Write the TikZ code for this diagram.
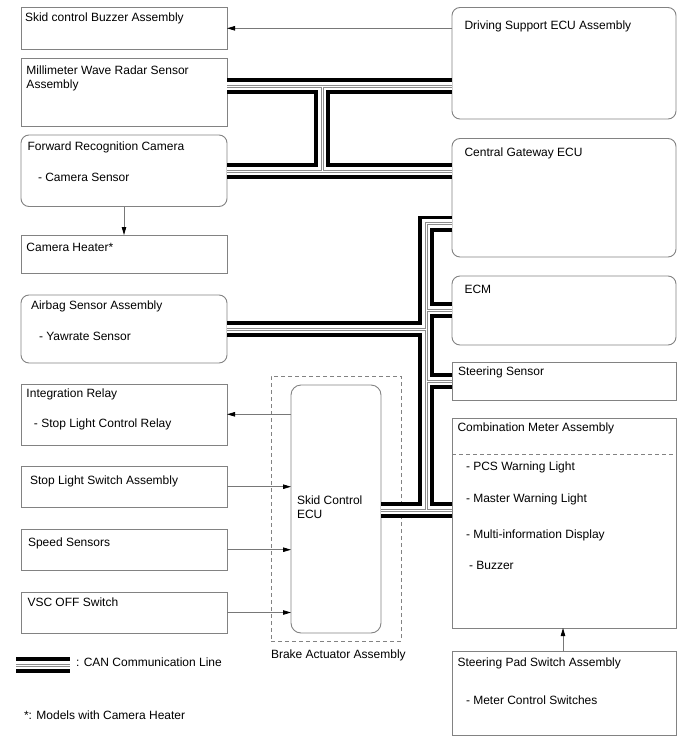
\documentclass[tikz,border=0pt]{standalone}
\usepackage{fontspec}
\setmainfont{Liberation Sans}
\usetikzlibrary{arrows.meta,calc}
\definecolor{boxgray}{RGB}{130,130,130}
\definecolor{linegray}{RGB}{120,120,120}
\definecolor{cangray}{RGB}{140,140,140}
\begin{document}
\begin{tikzpicture}[x=1pt,y=-1pt,
  sqbox/.style={draw=boxgray,line width=0.9pt,anchor=north west,inner sep=0,outer sep=0},
  rdbox/.style={sqbox,rounded corners=8pt},
  dashbox/.style={draw=boxgray,line width=0.8pt,dashed,dash pattern=on 4pt off 3pt,anchor=north west,inner sep=0,outer sep=0},
  lbl/.style={anchor=base west,inner sep=0,outer sep=0,font=\fontsize{12}{14}\selectfont},
  arr/.style={draw=linegray,line width=0.8pt,-{Triangle[length=8pt,width=4.5pt,color=black]}}
]
\useasboundingbox (0,0) rectangle (688,755);

% left column
\node[sqbox,minimum width=206pt,minimum height=41.5pt] (buz) at (21,7.5) {};
\node[sqbox,minimum width=206pt,minimum height=68pt] (mmw) at (21,58.5) {};
\node[rdbox,minimum width=206pt,minimum height=71.5pt] (cam) at (21,135) {};
\node[sqbox,minimum width=206pt,minimum height=38pt] (htr) at (21,235) {};
\node[rdbox,minimum width=206pt,minimum height=68pt] (abg) at (21,295) {};
\node[sqbox,minimum width=206pt,minimum height=61pt] (rly) at (21,384) {};
\node[sqbox,minimum width=206pt,minimum height=41pt] (slw) at (21,466.5) {};
\node[sqbox,minimum width=206pt,minimum height=40.5pt] (spd) at (21,529.5) {};
\node[sqbox,minimum width=206pt,minimum height=41pt] (vsc) at (21,592.5) {};

% right column
\node[rdbox,minimum width=224pt,minimum height=111.5pt] (drv) at (452,7.5) {};
\node[rdbox,minimum width=224pt,minimum height=118.5pt] (cgw) at (452,138.5) {};
\node[rdbox,minimum width=224pt,minimum height=69pt] (ecm) at (452,276) {};
\node[sqbox,minimum width=224pt,minimum height=37.5pt] (str) at (452,362.5) {};
\node[sqbox,minimum width=224pt,minimum height=209.5pt] (cmb) at (452,418.5) {};
\node[sqbox,minimum width=224pt,minimum height=84pt] (spa) at (452,651) {};
\draw[draw=boxgray,line width=0.8pt,dash pattern=on 4pt off 3pt] (cmb.west |- 0,454.5) -- (cmb.east |- 0,454.5);

% middle
\node[dashbox,minimum width=130pt,minimum height=265pt] (brk) at (271,376) {};
\node[rdbox,rounded corners=10pt,minimum width=90pt,minimum height=248pt] (ecu) at (291,385) {};

% labels
\node[lbl] (t1) at (25,21.5) {Skid control Buzzer Assembly};
\node[lbl] (t2) at (26.5,74.5) {Millimeter Wave Radar Sensor};
\node[lbl] (t2b) at (26.5,88.5) {Assembly};
\node[lbl] (t3) at (27.5,150) {Forward Recognition Camera};
\node[lbl] (t3b) at (38,181.5) {- Camera Sensor};
\node[lbl] (t4) at (26.5,251) {Camera Heater*};
\node[lbl] (t5) at (31,309) {Airbag Sensor Assembly};
\node[lbl] (t5b) at (39,340) {- Yawrate Sensor};
\node[lbl] (t6) at (26.5,397.5) {Integration Relay};
\node[lbl] (t6b) at (34,427.5) {- Stop Light Control Relay};
\node[lbl] (t7) at (30,484) {Stop Light Switch Assembly};
\node[lbl] (t8) at (28,546) {Speed Sensors};
\node[lbl] (t9) at (27.5,606.5) {VSC OFF Switch};

\node[lbl] (r1) at (464.5,29.3) {Driving Support ECU Assembly};
\node[lbl] (r2) at (464.5,156.7) {Central Gateway ECU};
\node[lbl] (r3) at (464.5,293.5) {ECM};
\node[lbl] (r4) at (458,375) {Steering Sensor};
\node[lbl] (r5) at (457.5,431) {Combination Meter Assembly};
\node[lbl] (r5a) at (466,470) {- PCS Warning Light};
\node[lbl] (r5b) at (466,502) {- Master Warning Light};
\node[lbl] (r5c) at (466,538) {- Multi-information Display};
\node[lbl] (r5d) at (469,569) {- Buzzer};
\node[lbl] (r6) at (457.5,666) {Steering Pad Switch Assembly};
\node[lbl] (r6b) at (466,704) {- Meter Control Switches};

\node[lbl] (m1) at (297,504) {Skid Control};
\node[lbl] (m1b) at (297,518.3) {ECU};
\node[lbl] (m2) at (271,658.3) {Brake Actuator Assembly};

\node[lbl] (lg) at (76,666.5) {: CAN Communication Line};
\node[lbl] (nt) at (24,719.3) {*: Models with Camera Heater};

% helper coordinates
\coordinate (yBz) at (0,28.3);
\coordinate (xHt) at (124,0);
\coordinate (yRl) at (0,414.3);
\coordinate (ySl) at (0,486.7);
\coordinate (ySp) at (0,549.7);
\coordinate (yVs) at (0,612.5);
\coordinate (xSp) at (563,0);

% signal arrows
\draw[arr] (drv.west |- yBz) -- (buz.east |- yBz);
\draw[arr] (cam.south -| xHt) -- (htr.north -| xHt);
\draw[arr] (ecu.west |- yRl) -- (rly.east |- yRl);
\draw[arr] (slw.east |- ySl) -- (ecu.west |- ySl);
\draw[arr] (spd.east |- ySp) -- (ecu.west |- ySp);
\draw[arr] (vsc.east |- yVs) -- (ecu.west |- yVs);
\draw[arr] (spa.north -| xSp) -- (cmb.south -| xSp);

% CAN bus coordinates
\coordinate (yA) at (0,86);
\coordinate (yB) at (0,171);
\coordinate (xAB) at (322,0);
\coordinate (xC) at (426,0);
\coordinate (yG) at (0,223.5);
\coordinate (yE) at (0,310);
\coordinate (yAb) at (0,329);
\coordinate (yS) at (0,381);
\coordinate (yK) at (0,510);
\coordinate (lg1) at (16,665);
\coordinate (lg2) at (70,665);

\foreach \w/\c in {16/black,8.5/white,3/cangray,1/white}{
  \draw[line width=\w pt,draw=\c,line cap=butt,line join=miter]
    (mmw.east |- yA) -- (drv.west |- yA)
    (cam.east |- yB) -- (cgw.west |- yB)
    (xAB |- yA) -- (xAB |- yB)
    (cgw.west |- yG) -- (xC |- yG) -- (xC |- yK)
    (abg.east |- yAb) -- (xC |- yAb)
    (xC |- yE) -- (ecm.west |- yE)
    (xC |- yS) -- (str.west |- yS)
    (ecu.east |- yK) -- (cmb.west |- yK)
    (lg1) -- (lg2);
}
\end{tikzpicture}
\end{document}
